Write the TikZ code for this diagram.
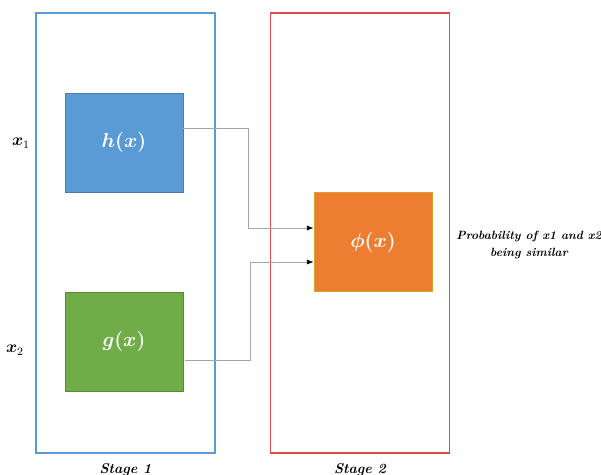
\documentclass[tikz,border=0pt]{standalone}
\usepackage{amsmath,amssymb,bm}
\usetikzlibrary{positioning,calc,arrows.meta}
\definecolor{stageblue}{HTML}{5B9BD5}
\definecolor{stagered}{HTML}{E04C4C}
\definecolor{hblue}{HTML}{5B9BD5}
\definecolor{ggreen}{HTML}{70AD47}
\definecolor{phiorange}{HTML}{ED7D31}
\definecolor{phiedge}{HTML}{D4A52A}
\definecolor{wiregray}{HTML}{A6A6A6}

\begin{document}
\begin{tikzpicture}[
      x=0.025cm,y=-0.025cm,
      stagebox/.style={draw,line width=0.9pt,minimum width=4.475cm,minimum height=11cm,inner sep=0pt},
      fbox/.style={rectangle,minimum width=2.95cm,minimum height=2.475cm,inner sep=0pt,text=white,font=\Large\boldmath},
      lbl/.style={font=\normalsize\bfseries\itshape,align=center},
      arr/.style={-{Latex[length=1.7mm,width=1.3mm,black]},draw=wiregray,line width=0.6pt}]
      \useasboundingbox (0,0) rectangle (601,475);
      \node[stagebox,draw=stageblue] (stage1) at (125.5,233) {};
      \node[stagebox,draw=stagered] (stage2) at (360,233) {};
      \node[lbl,below=0.12cm of stage1] {Stage 1};
      \node[lbl,below=0.12cm of stage2] {Stage 2};
      \node[fbox,fill=hblue,draw=hblue!80!black,line width=0.3pt] (h) at (124,142.5) {$h(x)$};
      \node[fbox,fill=ggreen,draw=ggreen!80!black,line width=0.3pt] (g) at (124,341.5) {$g(x)$};
      \node[fbox,fill=phiorange,draw=phiedge,line width=0.5pt] (phi) at (373,242) {$\phi(x)$};
      \node[font=\large] (x1) at (21,143) {$\bm{x}_1$};
      \node[font=\large] (x2) at (15,350) {$\bm{x}_2$};
      \node[lbl,font=\fontsize{8.5}{12}\selectfont\bfseries\itshape] (prob) at (529,245) {Probability of x1 and x2\\being similar};
      \coordinate (in1) at ($(phi.west)+(0,-14)$);
      \coordinate (in2) at ($(phi.west)+(0,20)$);
      \draw[arr] ($(h.east)+(0,-14)$) -| (248,228) -- (in1);
      \draw[arr] ($(g.east)+(2,19)$) -| (250,262) -- (in2);
    \end{tikzpicture}
\end{document}
